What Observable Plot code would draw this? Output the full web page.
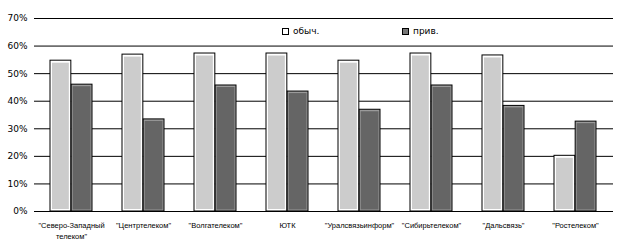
<!DOCTYPE html>
<html>
<head>
<meta charset="utf-8">
<script src="https://cdn.jsdelivr.net/npm/d3@7"></script>
<script src="https://cdn.jsdelivr.net/npm/@observablehq/plot@0.6"></script>
<style>
  body { margin: 0; background: #fff; }
  #wrap { position: relative; width: 619px; height: 245px; }
  .legend { position: absolute; top: 26px; font: 9px "DejaVu Sans", sans-serif; color: #000; display: flex; align-items: center; white-space: nowrap; }
  .sw { display: inline-block; width: 5px; height: 5px; border: 1px solid #000; margin-right: 4px; box-sizing: content-box; }
</style>
</head>
<body>
<div id="wrap"></div>
<script>
const categories = ["\"Северо-Западный телеком\"", "\"Центртелеком\"", "\"Волгателеком\"", "ЮТК",
  "\"Уралсвязьинформ\"", "\"Сибирьтелеком\"", "\"Дальсвязь\"", "\"Ростелеком\""];
const tickLabels = ["\"Северо-Западный\nтелеком\"", "\"Центртелеком\"", "\"Волгателеком\"", "ЮТК",
  "\"Уралсвязьинформ\"", "\"Сибирьтелеком\"", "\"Дальсвязь\"", "\"Ростелеком\""];
const seriesNames = ["обыч.", "прив."];
const obych = [0.547, 0.569, 0.573, 0.573, 0.547, 0.573, 0.566, 0.202];
const priv  = [0.460, 0.334, 0.457, 0.435, 0.369, 0.457, 0.383, 0.326];
const yTicks = [0, 0.1, 0.2, 0.3, 0.4, 0.5, 0.6, 0.7];

const data = [];
categories.forEach((c, i) => {
  data.push({cat: c, series: seriesNames[0], value: obych[i]});
  data.push({cat: c, series: seriesNames[1], value: priv[i]});
});
const light = data.filter(d => d.series === seriesNames[0]);
const dark = data.filter(d => d.series === seriesNames[1]);

const W = 619, H = 245, ml = 34, mr = 6, mt = 18, mb = 34;
const padIn = 0.415;
const step = (W - ml - mr) / categories.length;
const half = step * (1 - padIn) / 2;
const labelOf = new Map(categories.map((c, i) => [c, tickLabels[i]]));

const chart = Plot.plot({
  width: W, height: H,
  marginLeft: ml, marginRight: mr, marginTop: mt, marginBottom: mb,
  style: {fontFamily: "'DejaVu Sans', sans-serif", fontSize: "9px", color: "#000", background: "#fff"},
  x: {type: "band", domain: categories, paddingInner: padIn, paddingOuter: padIn / 2},
  y: {domain: [0, 0.7]},
  marks: [
    Plot.gridY(yTicks, {stroke: "#000", strokeOpacity: 1}),
    Plot.axisY({ticks: yTicks, tickFormat: d3.format(".0%"), tickSize: 0, tickPadding: 7, label: null, fontSize: 9}),
    Plot.axisX({tickSize: 0, tickPadding: 9, label: null, tickFormat: d => labelOf.get(d),
      fontSize: 7.5, fontFamily: "'Liberation Sans', Arial, sans-serif", lineHeight: 1.45}),
    Plot.barY(light, {x: "cat", y: "value", fill: "#fff", stroke: "#000", insetRight: half}),
    Plot.barY(light, {x: "cat", y: "value", fill: "#cccccc", insetLeft: 2, insetRight: half + 2, insetTop: 2.5, insetBottom: 2}),
    Plot.barY(dark, {x: "cat", y: "value", fill: "#9a9a9a", stroke: "#000", insetLeft: half}),
    Plot.barY(dark, {x: "cat", y: "value", fill: "#656565", insetLeft: half + 1.5, insetRight: 1.5, insetTop: 2, insetBottom: 1.5}),
    Plot.ruleY([0], {stroke: "#000"})
  ]
});

const wrap = document.getElementById("wrap");
wrap.appendChild(chart);

const legendLeft = [282, 402];
const swatchFill = ["#fff", "#777"];
seriesNames.forEach((s, i) => {
  const el = document.createElement("div");
  el.className = "legend";
  el.style.left = legendLeft[i] + "px";
  const sw = document.createElement("span");
  sw.className = "sw";
  sw.style.background = swatchFill[i];
  el.appendChild(sw);
  el.appendChild(document.createTextNode(s));
  wrap.appendChild(el);
});
</script>
</body>
</html>
